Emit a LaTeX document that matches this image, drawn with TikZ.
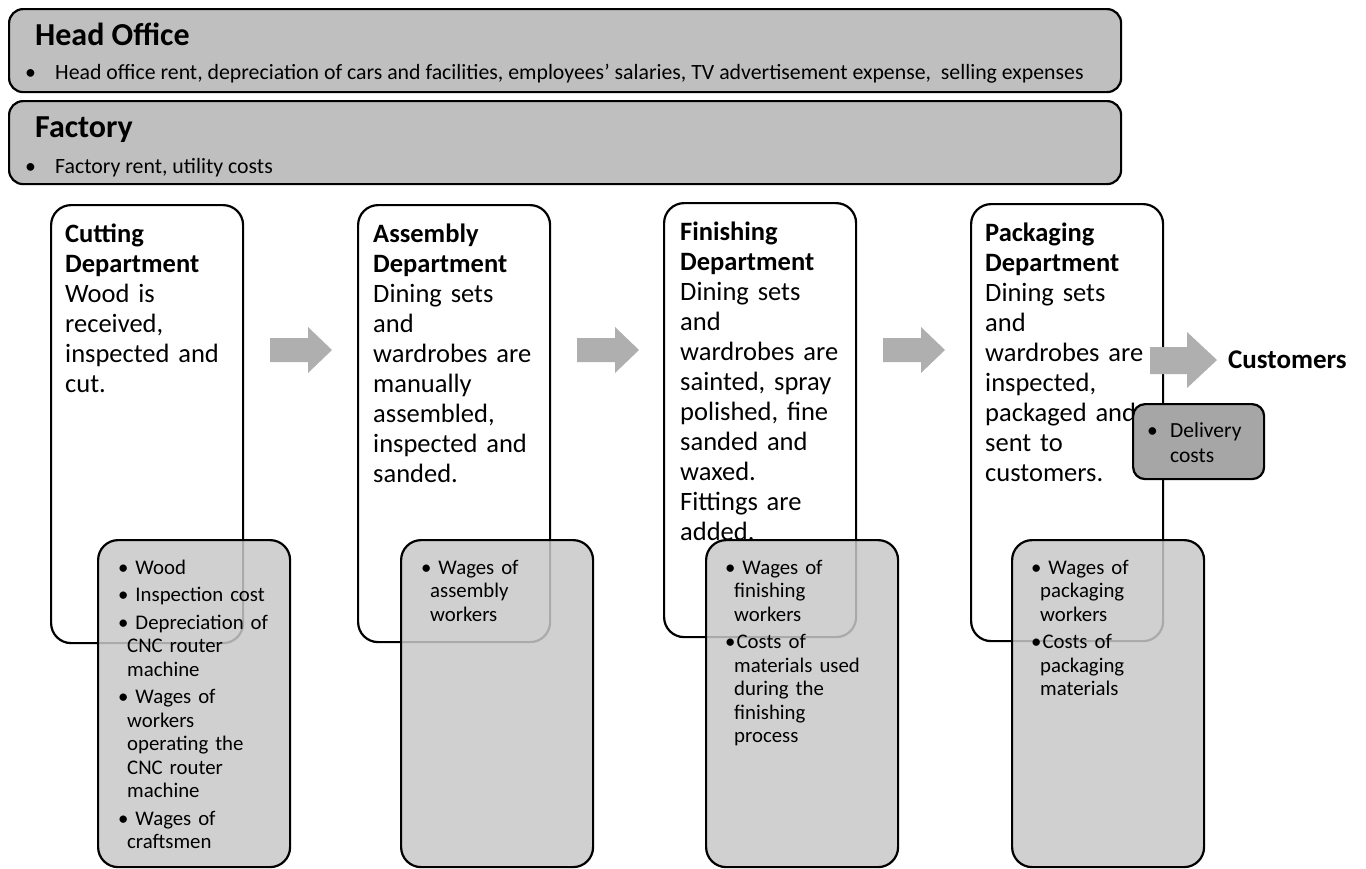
\documentclass[tikz,border=0pt]{standalone}
\usepackage{fontspec}
\setmainfont{Carlito}
\definecolor{barfill}{HTML}{BFBFBF}
\definecolor{costfill}{HTML}{C8C8C8}
\definecolor{delfill}{HTML}{A6A6A6}
\definecolor{arrowfill}{HTML}{AFAFAF}
\begin{document}
\begin{tikzpicture}[x=1pt,y=-1pt,
  bar/.style={draw=black, line width=2.2pt, rounded corners=14pt, fill=barfill, inner sep=0pt, anchor=north west, minimum width=1112pt, minimum height=83pt},
  dept/.style={draw=black, line width=2.2pt, rounded corners=20pt, fill=white, inner sep=0pt, anchor=north west, minimum width=192pt},
  cost/.style={draw=black, line width=2.2pt, rounded corners=20pt, fill=costfill, fill opacity=0.85, draw opacity=1, inner sep=0pt, anchor=north west, minimum width=192pt, minimum height=327pt},
  deliv/.style={draw=black, line width=2.2pt, rounded corners=12pt, fill=delfill, inner sep=0pt, anchor=north west, minimum width=131pt, minimum height=75pt},
  bartitle/.style={anchor=base west, inner sep=0pt, font=\fontsize{32}{36}\selectfont\bfseries},
  bartext/.style={anchor=base west, inner sep=0pt, font=\fontsize{21.8}{26}\selectfont},
  depttext/.style={anchor=base west, inner sep=0pt, text width=185pt, align=left, font=\fontsize{26.5}{30}\selectfont},
  costtext/.style={anchor=base west, inner sep=0pt, text width=175pt, align=left, font=\fontsize{20.8}{23.5}\selectfont},
  blockarrow/.style={fill=arrowfill, draw=none},
]
\useasboundingbox (0,0) rectangle (1366,868);

% top bars
\node[bar] (head) at (8,8) {};
\node[bartitle] (headtitle) at (35,45) {Head Office};
\node[bartext] (headtext) at (25,79) {\makebox[30pt][l]{\textbullet}Head office rent, depreciation of cars and facilities, employees’ salaries, TV advertisement expense, \ selling expenses};
\node[bar] (factory) at (8,100) {};
\node[bartitle] (factorytitle) at (35,137) {Factory};
\node[bartext] (factorytext) at (25,173) {\makebox[30pt][l]{\textbullet}Factory rent, utility costs};

% department boxes
\node[dept, minimum height=438pt] (cut) at (50,204) {};
\node[dept, minimum height=437pt] (asm) at (357,204) {};
\node[dept, minimum height=434pt] (fin) at (663,202) {};
\node[dept, minimum height=437pt] (pack) at (970,203) {};

\node[depttext] (cuttext) at (65,242) {\textbf{Cutting}\\\textbf{Department}\\Wood is\\received,\\inspected and\\cut.};
\node[depttext] (asmtext) at (373,242) {\textbf{Assembly}\\\textbf{Department}\\Dining sets\\and\\wardrobes are\\manually\\assembled,\\inspected and\\sanded.};
\node[depttext] (fintext) at (680,240) {\textbf{Finishing}\\\textbf{Department}\\Dining sets\\and\\wardrobes are\\sainted, spray\\polished, fine\\sanded and\\waxed.\\Fittings are\\added.};
\node[depttext] (packtext) at (985,241) {\textbf{Packaging}\\\textbf{Department}\\Dining sets\\and\\wardrobes are\\inspected,\\packaged and\\sent to\\customers.};

% block arrows between departments
\fill[blockarrow] (270,338) -- (308,338) -- (308,327) -- (332,350) -- (308,373) -- (308,362) -- (270,362) -- cycle;
\fill[blockarrow] (577,338) -- (615,338) -- (615,327) -- (639,350) -- (615,373) -- (615,362) -- (577,362) -- cycle;
\fill[blockarrow] (883,338) -- (921,338) -- (921,327) -- (945,350) -- (921,373) -- (921,362) -- (883,362) -- cycle;
\fill[blockarrow] (1150,347) -- (1187,347) -- (1187,332) -- (1217,360) -- (1187,388) -- (1187,374) -- (1150,374) -- cycle;

\node[anchor=base west, inner sep=0pt, font=\fontsize{27}{30}\selectfont\bfseries] (cust) at (1228,368) {Customers};

% delivery costs
\node[deliv] (deliv) at (1132,403) {};
\node[anchor=base west, inner sep=0pt, text width=120pt, align=left, font=\fontsize{21.5}{25}\selectfont] (delivtext) at (1147,437) {\makebox[23pt][l]{\textbullet}Delivery\\\hspace*{23pt}costs};

% cost boxes
\node[cost] (cutcost) at (97,539) {};
\node[cost] (asmcost) at (400,539) {};
\node[cost] (fincost) at (705,539) {};
\node[cost] (packcost) at (1011,539) {};

\node[costtext] (cutcosttext) at (118,574) {\textbullet\ Wood\\[4pt]
\textbullet\ Inspection cost\\[4pt]
\textbullet\ Depreciation of\\
\hspace*{9pt}CNC router\\
\hspace*{9pt}machine\\[4pt]
\textbullet\ Wages of\\
\hspace*{9pt}workers\\
\hspace*{9pt}operating the\\
\hspace*{9pt}CNC router\\
\hspace*{9pt}machine\\[4pt]
\textbullet\ Wages of\\
\hspace*{9pt}craftsmen};
\node[costtext] (asmcosttext) at (421,574) {\textbullet\ Wages of\\
\hspace*{9pt}assembly\\
\hspace*{9pt}workers};
\node[costtext] (fincosttext) at (725,574) {\textbullet\ Wages of\\
\hspace*{9pt}finishing\\
\hspace*{9pt}workers\\[4pt]
\textbullet\hspace{1pt}Costs of\\
\hspace*{9pt}materials used\\
\hspace*{9pt}during the\\
\hspace*{9pt}finishing\\
\hspace*{9pt}process};
\node[costtext] (packcosttext) at (1031,574) {\textbullet\ Wages of\\
\hspace*{9pt}packaging\\
\hspace*{9pt}workers\\[4pt]
\textbullet\hspace{1pt}Costs of\\
\hspace*{9pt}packaging\\
\hspace*{9pt}materials};
\end{tikzpicture}
\end{document}
